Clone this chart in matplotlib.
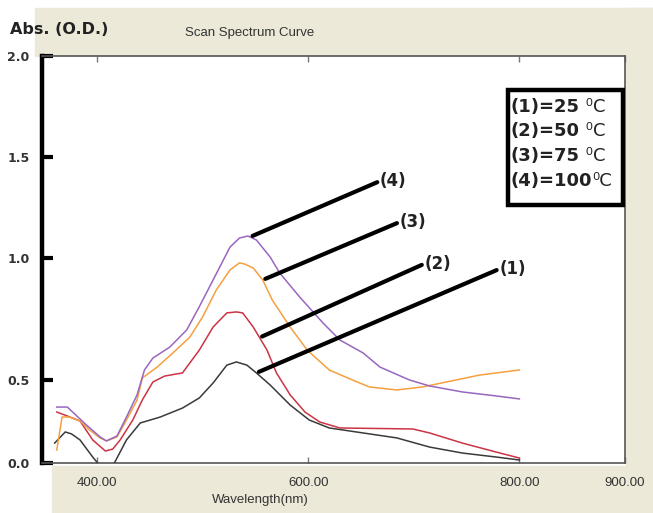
import numpy as np
import matplotlib
matplotlib.use("Agg")
import matplotlib.pyplot as plt
from matplotlib.patches import Rectangle

# -------------------------------
# Data (wavelength nm, absorbance O.D.)
# -------------------------------
wl_25 = [360, 370, 376, 384, 396, 406, 412, 417, 428, 441, 460, 481, 497, 510,
         523, 532, 542, 551, 564, 583, 601, 620, 652, 684, 715, 746, 778, 800]
abs_25 = [0.120, 0.187, 0.175, 0.139, 0.036, -0.04, -0.04, 0.006, 0.139, 0.241,
          0.277, 0.331, 0.392, 0.482, 0.561, 0.574, 0.561, 0.529, 0.470, 0.349,
          0.259, 0.211, 0.181, 0.151, 0.096, 0.060, 0.036, 0.018]

wl_50 = [362, 372, 384, 396, 408, 415, 422, 434, 443, 453, 464, 481, 497, 510,
         523, 532, 538, 548, 561, 570, 583, 597, 611, 630, 699, 715, 746, 778, 800]
abs_50 = [0.307, 0.283, 0.253, 0.139, 0.072, 0.084, 0.139, 0.259, 0.380, 0.488,
          0.516, 0.529, 0.623, 0.717, 0.775, 0.779, 0.775, 0.717, 0.623, 0.529,
          0.410, 0.307, 0.247, 0.211, 0.205, 0.181, 0.120, 0.066, 0.030]

wl_75 = [362, 367, 374, 384, 393, 403, 409, 419, 428, 438, 443, 457, 472, 488,
         500, 513, 526, 535, 540, 548, 557, 566, 583, 599, 620, 642, 658, 684,
         708, 731, 762, 800]
abs_75 = [0.078, 0.277, 0.277, 0.253, 0.199, 0.151, 0.133, 0.157, 0.259, 0.380,
          0.508, 0.553, 0.611, 0.676, 0.758, 0.869, 0.951, 0.980, 0.975, 0.959,
          0.910, 0.828, 0.717, 0.623, 0.541, 0.500, 0.458, 0.440, 0.458, 0.488,
          0.520, 0.541]

wl_100 = [362, 372, 379, 389, 403, 409, 419, 428, 438, 445, 453, 469, 485, 497,
          510, 526, 535, 543, 551, 564, 573, 592, 614, 630, 652, 668, 696, 715,
          746, 778, 800]
abs_100 = [0.337, 0.337, 0.295, 0.235, 0.157, 0.133, 0.163, 0.277, 0.410, 0.541,
           0.590, 0.635, 0.705, 0.801, 0.910, 1.054, 1.099, 1.109, 1.089, 1.005,
           0.939, 0.840, 0.734, 0.664, 0.611, 0.553, 0.500, 0.464, 0.428, 0.404,
           0.386]

series = [(wl_25, abs_25, "#3a3a3a"),
          (wl_50, abs_50, "#cc3344"),
          (wl_75, abs_75, "#f5a040"),
          (wl_100, abs_100, "#9966c0")]

curve_labels = ["(1)", "(2)", "(3)", "(4)"]
label_wl = [551, 554, 557, 545]          # where each pointer touches its curve
label_offsets = [(243, 104), (165, 74), (137, 58), (130, 56)]  # pixels

legend_main = ["(1)=25", "(2)=50", "(3)=75", "(4)=100"]
legend_unit = [" \u2070C", " \u2070C", " \u2070C", "\u2070C"]

y_ticks = [0.0, 0.5, 1.0, 1.5, 2.0]
x_ticks = [400, 600, 800, 900]

# the instrument printout spaces its y ticks unevenly; follow it
tick_pix = [0, 83, 205, 306, 407]


def fwd(v):
    return np.interp(v, [-1] + y_ticks + [3], [-166] + tick_pix + [507])


def inv(p):
    return np.interp(p, [-166] + tick_pix + [507], [-1] + y_ticks + [3])


# -------------------------------
# Figure
# -------------------------------
beige = "#ece9d8"
narrow = ["Liberation Sans Narrow", "Liberation Sans", "DejaVu Sans"]

fig = plt.figure(figsize=(6.53, 5.13), dpi=100, facecolor="white")
W, H = 653, 513
for x0, y0, x1, y1 in [(35, 8, 653, 56), (626, 8, 653, 513), (52, 466, 653, 513)]:
    fig.patches.append(Rectangle((x0 / W, 1 - y1 / H), (x1 - x0) / W, (y1 - y0) / H,
                                 transform=fig.transFigure, color=beige, zorder=-10))

ax = fig.add_axes([42 / W, 1 - 463 / H, 583 / W, 407 / H])
ax.set_facecolor("white")
ax.set_yscale("function", functions=(fwd, inv))

for wl, a, c in series:
    ax.plot(wl, a, color=c, lw=1.1, zorder=3)

for lab, w, off, (wl, a, c) in zip(curve_labels, label_wl, label_offsets, series):
    y0 = np.interp(w, wl, a)
    ax.annotate(lab, xy=(w, y0), xytext=off, textcoords="offset pixels",
                ha="left", va="center", fontsize=12, fontweight="bold",
                color="#222222",
                arrowprops=dict(arrowstyle="-", lw=3, color="black",
                                shrinkA=0, shrinkB=2, relpos=(0, 0.5)),
                zorder=4)

# legend box, top right
ax.add_patch(Rectangle(((508 - 42) / 583, (463 - 205) / 407), 115 / 583, 115 / 407,
                       transform=ax.transAxes, fc="white", ec="black", lw=3.2,
                       zorder=5))
for i, (m, u) in enumerate(zip(legend_main, legend_unit)):
    t = ax.text((511 - 42) / 583, (463 - 107 - 24.5 * i) / 407, m,
                transform=ax.transAxes, ha="left", va="center", fontsize=13,
                fontweight="bold", color="#222222", zorder=6)
    ax.annotate(u, xy=(1, 0.5), xycoords=t, ha="left", va="center",
                fontsize=13, color="#222222", zorder=6)

ax.set_xlim(348, 900)
ax.set_ylim(0, 2.0)
ax.set_yticks(y_ticks)
ax.set_yticklabels([f"{t:.1f}" for t in y_ticks], fontweight="bold",
                   fontsize=9, color="#333333")
ax.yaxis.set_minor_locator(matplotlib.ticker.NullLocator())
ax.tick_params(axis="y", direction="in", length=8, width=3, color="black", pad=9)

ax.set_xticks(x_ticks)
ax.set_xticklabels([f"{t:.2f}" for t in x_ticks], fontsize=9.5,
                   family=narrow, color="#333333")
ax.tick_params(axis="x", direction="in", length=4, width=1, color="#777777",
               top=True, pad=10)

ax.spines["left"].set_linewidth(3.2)
ax.spines["left"].set_color("black")
for s in ["top", "bottom", "right"]:
    ax.spines[s].set_linewidth(1.2)
    ax.spines[s].set_color("#555555")

ax.set_xlabel("Wavelength(nm)", fontsize=9.5, family=narrow, color="#333333")
ax.xaxis.set_label_coords(0.374, -0.075)

fig.text(10 / W, 1 - 30 / H, "Abs. (O.D.)", fontsize=11.5, fontweight="bold",
         va="center", ha="left", color="#222222")
fig.text(185 / W, 1 - 33 / H, "Scan Spectrum Curve", fontsize=9.5,
         family=narrow, va="center", ha="left", color="#333333")

fig.savefig("out.png", dpi=100, facecolor=fig.get_facecolor())
